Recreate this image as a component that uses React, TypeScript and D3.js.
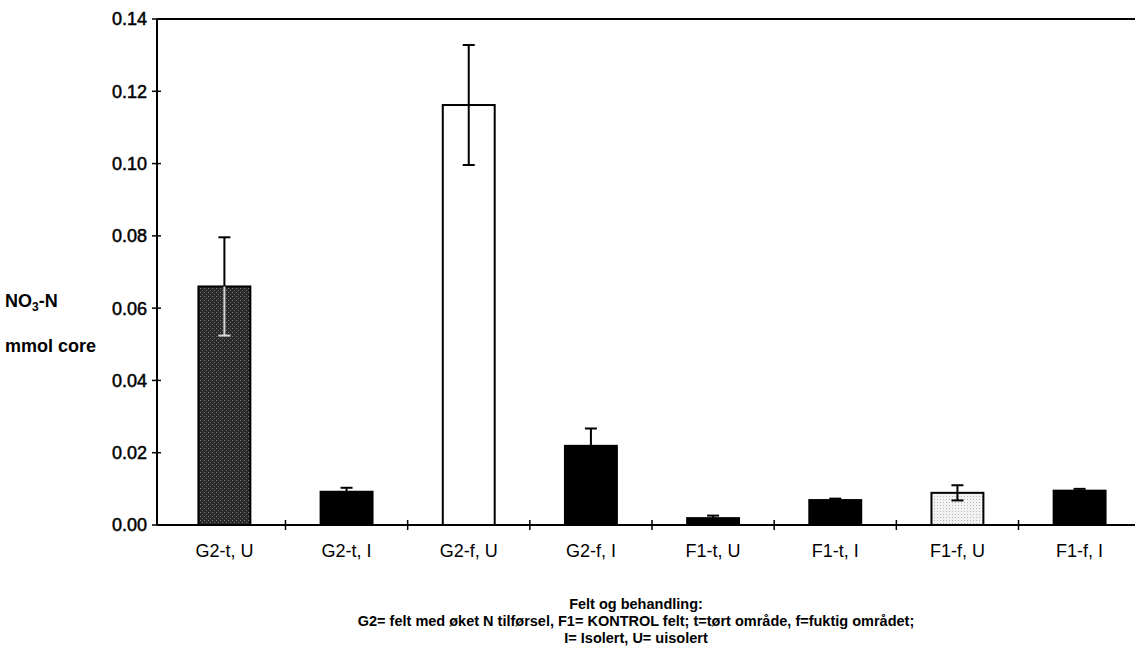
import React from "react";
import * as d3 from "d3";

const categories = ["G2-t, U", "G2-t, I", "G2-f, U", "G2-f, I", "F1-t, U", "F1-t, I", "F1-f, U", "F1-f, I"];
const values = [0.066, 0.0092, 0.1162, 0.0219, 0.0019, 0.0069, 0.0089, 0.0095];
const errors = [0.0136, 0.0011, 0.0166, 0.0048, 0.0007, 0.0004, 0.0021, 0.0005];
const fills = ["url(#darkStipple)", "#000", "#fff", "#000", "#000", "#000", "url(#lightStipple)", "#000"];
const yTicks = [0, 0.02, 0.04, 0.06, 0.08, 0.1, 0.12, 0.14];
const footerLines = [
  "Felt og behandling:",
  "G2= felt med øket N tilførsel,  F1= KONTROL felt; t=tørt område, f=fuktig området;",
  "I= Isolert, U= uisolert",
];

const W = 1135;
const H = 666;
const axisX = 157;
const top = 19;
const bottom = 525;
const font = "'Liberation Sans', Arial, Helvetica, sans-serif";

export default function App() {
  const y = d3.scaleLinear().domain([0, 0.14]).range([bottom, top]);
  const x = d3.scaleBand<string>().domain(categories).range([163, 1141]).paddingInner(0.575).paddingOuter(0.29);
  const step = x.step();
  const bw = x.bandwidth();
  const boundaries = categories.map((c) => (x(c) as number) + bw / 2 + step / 2).slice(0, 7);

  return (
    <svg width={W} height={H} style={{ position: "absolute", left: 0, top: 0, background: "#fff" }} fontFamily={font}>
      <defs>
        <pattern id="darkStipple" width="4" height="4" patternUnits="userSpaceOnUse">
          <rect width="4" height="4" fill="#2a2a2a" />
          <rect x="0" y="0" width="1" height="1" fill="#808080" />
          <rect x="2" y="2" width="1" height="1" fill="#707070" />
        </pattern>
        <pattern id="lightStipple" width="3" height="3" patternUnits="userSpaceOnUse">
          <rect width="3" height="3" fill="#f2f2f2" />
          <rect x="1" y="1" width="1" height="1" fill="#b8b8b8" />
        </pattern>
      </defs>

      {/* bars */}
      {categories.map((c, i) => {
        const x0 = x(c) as number;
        const yt = y(values[i]);
        return (
          <rect key={c} x={x0} y={yt} width={bw} height={bottom - yt} fill={fills[i]} stroke="#000" strokeWidth={2} />
        );
      })}

      {/* error bars */}
      {categories.map((c, i) => {
        const cx = (x(c) as number) + bw / 2;
        const yv = y(values[i]);
        const yHi = y(values[i] + errors[i]);
        const yLo = y(Math.max(0, values[i] - errors[i]));
        const lowColor = fills[i].includes("dark") ? "#d8d8d8" : "#000";
        return (
          <g key={c}>
            <line x1={cx} x2={cx} y1={yHi} y2={yv} stroke="#000" strokeWidth={2} />
            <line x1={cx - 6} x2={cx + 6} y1={yHi} y2={yHi} stroke="#000" strokeWidth={2} />
            <line x1={cx} x2={cx} y1={yv} y2={yLo} stroke={lowColor} strokeWidth={2} />
            <line x1={cx - 6} x2={cx + 6} y1={yLo} y2={yLo} stroke={lowColor} strokeWidth={2} />
          </g>
        );
      })}

      {/* axes */}
      <line x1={axisX} x2={W} y1={top} y2={top} stroke="#000" strokeWidth={2} />
      <line x1={axisX} x2={axisX} y1={top} y2={bottom} stroke="#000" strokeWidth={2} />
      <line x1={axisX} x2={W} y1={bottom} y2={bottom} stroke="#000" strokeWidth={2} />

      {yTicks.map((t) => (
        <g key={t}>
          <line x1={axisX - 5} x2={axisX + 4} y1={y(t)} y2={y(t)} stroke="#000" strokeWidth={1.5} />
          <text x={axisX - 10} y={y(t)} dy="0.36em" textAnchor="end" fontSize={18} stroke="#000" strokeWidth={0.5}>
            {t.toFixed(2)}
          </text>
        </g>
      ))}

      {boundaries.map((b, i) => (
        <line key={i} x1={b} x2={b} y1={bottom - 5} y2={bottom + 5} stroke="#000" strokeWidth={1.5} />
      ))}

      {categories.map((c) => (
        <text key={c} x={(x(c) as number) + bw / 2} y={557} textAnchor="middle" fontSize={18}>
          {c}
        </text>
      ))}

      {/* y label */}
      <text x={5} y={307} fontSize={18} fontWeight="bold">
        NO<tspan fontSize={12} dy={4}>3</tspan>
        <tspan dy={-4}>-N</tspan>
      </text>
      <text x={5} y={352} fontSize={18} fontWeight="bold">
        mmol core
      </text>

      {/* footer */}
      {footerLines.map((l, i) => (
        <text key={i} x={636} y={609 + i * 17} textAnchor="middle" fontSize={14.5} fontWeight="bold">
          {l}
        </text>
      ))}
    </svg>
  );
}
